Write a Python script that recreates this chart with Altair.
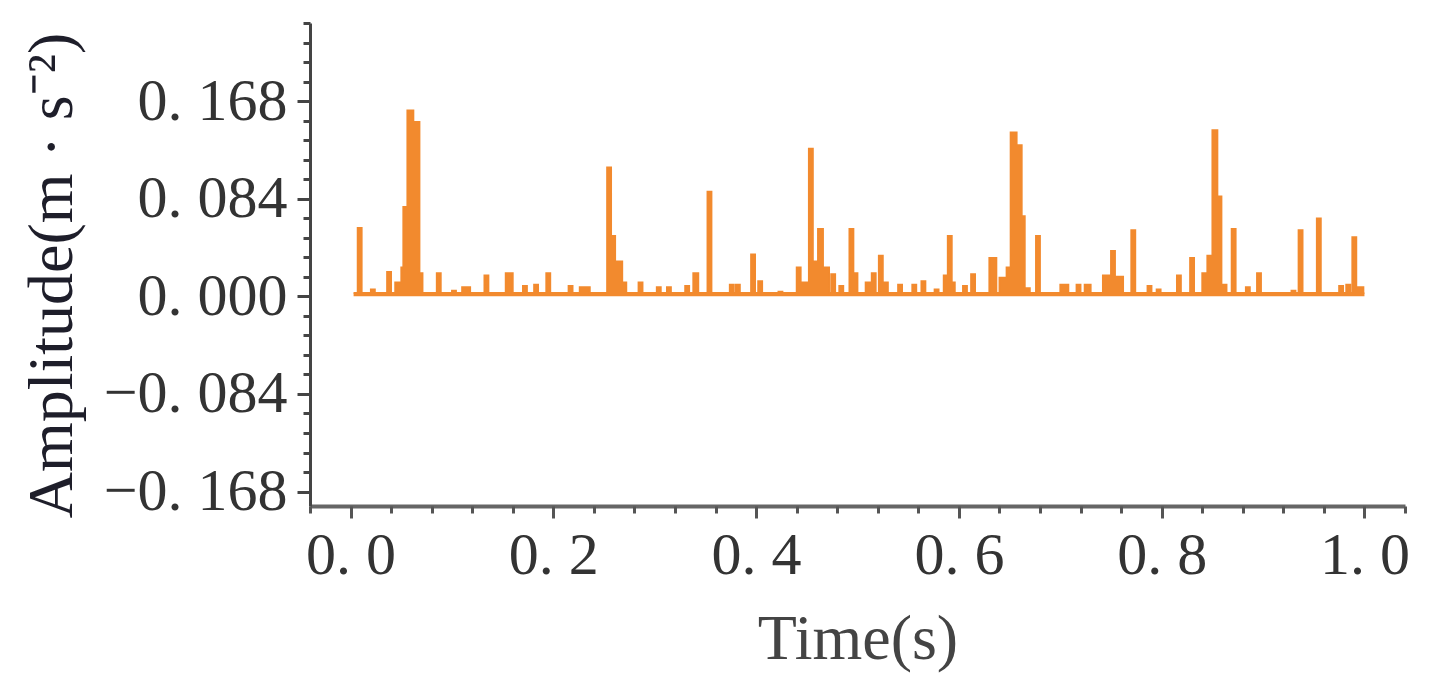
import altair as alt
import pandas as pd

# ---- data: spikes as (start time, end time, amplitude) held flat (step) ----
seg_start = [0.007, 0.020, 0.036, 0.044, 0.050, 0.052, 0.056, 0.062, 0.068, 0.085,
             0.100, 0.110, 0.132, 0.153, 0.170, 0.181, 0.193, 0.215, 0.226, 0.253,
             0.257, 0.261, 0.268, 0.284, 0.302, 0.312, 0.330, 0.338, 0.352, 0.374,
             0.380, 0.395, 0.402, 0.422, 0.440, 0.444, 0.452, 0.456, 0.461, 0.466,
             0.474, 0.482, 0.492, 0.496, 0.508, 0.514, 0.521, 0.525, 0.540, 0.554,
             0.563, 0.576, 0.585, 0.589, 0.593, 0.604, 0.612, 0.630, 0.640, 0.647,
             0.651, 0.657, 0.662, 0.665, 0.676, 0.700, 0.716, 0.724, 0.742, 0.750,
             0.754, 0.770, 0.786, 0.795, 0.815, 0.828, 0.840, 0.845, 0.850, 0.855,
             0.859, 0.869, 0.883, 0.894, 0.928, 0.935, 0.953, 0.975, 0.982, 0.988,
             0.992]
seg_end = [0.011, 0.024, 0.040, 0.050, 0.052, 0.056, 0.062, 0.068, 0.071, 0.089,
           0.104, 0.118, 0.136, 0.160, 0.174, 0.185, 0.197, 0.219, 0.236, 0.257,
           0.261, 0.268, 0.272, 0.288, 0.306, 0.316, 0.334, 0.343, 0.356, 0.378,
           0.384, 0.399, 0.406, 0.426, 0.444, 0.452, 0.456, 0.461, 0.466, 0.472,
           0.478, 0.486, 0.496, 0.500, 0.514, 0.518, 0.525, 0.530, 0.544, 0.558,
           0.567, 0.580, 0.589, 0.593, 0.596, 0.608, 0.616, 0.637, 0.647, 0.651,
           0.657, 0.662, 0.665, 0.670, 0.680, 0.708, 0.720, 0.730, 0.750, 0.754,
           0.762, 0.774, 0.790, 0.799, 0.819, 0.832, 0.845, 0.850, 0.855, 0.859,
           0.864, 0.873, 0.887, 0.898, 0.932, 0.939, 0.957, 0.979, 0.986, 0.992,
           0.999]
seg_amp = [0.059, 0.006, 0.021, 0.012, 0.025, 0.077, 0.160, 0.150, 0.020, 0.020,
           0.005, 0.008, 0.018, 0.020, 0.009, 0.010, 0.020, 0.009, 0.008, 0.111,
           0.052, 0.030, 0.012, 0.012, 0.008, 0.008, 0.009, 0.020, 0.090, 0.010,
           0.010, 0.036, 0.013, 0.004, 0.025, 0.012, 0.127, 0.030, 0.058, 0.025,
           0.019, 0.009, 0.058, 0.020, 0.012, 0.020, 0.035, 0.012, 0.010, 0.010,
           0.013, 0.006, 0.018, 0.052, 0.012, 0.009, 0.019, 0.033, 0.016, 0.025,
           0.141, 0.130, 0.069, 0.007, 0.052, 0.010, 0.010, 0.010, 0.018, 0.039,
           0.017, 0.057, 0.009, 0.006, 0.018, 0.033, 0.020, 0.035, 0.143, 0.086,
           0.010, 0.058, 0.008, 0.020, 0.005, 0.057, 0.067, 0.009, 0.010, 0.051,
           0.008]
t_first, t_last = 0.003, 1.000
base_level = 0.003

y_major = [-0.168, -0.084, 0.0, 0.084, 0.168]
x_major = [0.0, 0.2, 0.4, 0.6, 0.8, 1.0]

# ---- build step table ----
rows = [(t_first, base_level)]
for i, (s, e, a) in enumerate(zip(seg_start, seg_end, seg_amp)):
    rows.append((s, a))
    nxt = seg_start[i + 1] if i + 1 < len(seg_start) else None
    if nxt is None or abs(nxt - e) > 1e-9:
        rows.append((e, base_level))
rows.append((t_last, base_level))
df = pd.DataFrame(rows, columns=["t", "a"])

ORANGE = "#F28A2E"
FONT = "Liberation Serif"

x_minor = [round(-0.04 + 0.04 * k, 2) for k in range(28)]
y_minor = [round(-0.168 + 0.0168 * k, 4) for k in range(25)]

x_axis = alt.Axis(
    values=x_major, orient="bottom",
    title="Time(s)",
    labelExpr="replace(format(datum.value, '.1f'), '.', '. ')",
    tickSize=12, tickWidth=3, tickColor="#555",
    domainColor="#666", domainWidth=4,
    labelFont=FONT, labelFontSize=60, labelColor="#333", labelPadding=8,
    labelOverlap=False, labelFlush=False, labelBound=False, labelLimit=400,
    titleFont=FONT, titleFontSize=64, titleFontWeight="normal", titleColor="#444",
    titlePadding=21, minExtent=80, maxExtent=80, grid=False,
)
y_axis = alt.Axis(
    values=y_major, orient="left",
    title="Amplitude(m · s⁻²)",
    labelExpr="replace(format(datum.value, '.3f'), '.', '. ')",
    tickSize=13, tickWidth=3, tickColor="#444",
    domainColor="#444", domainWidth=3,
    labelFont=FONT, labelFontSize=60, labelColor="#333", labelPadding=10,
    labelOverlap=False, labelFlush=False, labelBound=False, labelLimit=400,
    titleFont=FONT, titleFontSize=64, titleFontWeight="normal", titleColor="#1e1e2a",
    titlePadding=26, minExtent=200, maxExtent=200, titleY=252, titleLimit=800,
    grid=False,
)
x_minor_axis = alt.Axis(
    values=x_minor, orient="bottom", title=None, labels=False, domain=False,
    tickSize=7, tickWidth=3, tickColor="#555", grid=False,
)
y_minor_axis = alt.Axis(
    values=y_minor, orient="left", title=None, labels=False, domain=False,
    tickSize=7, tickWidth=3, tickColor="#444", grid=False,
)

xs = alt.Scale(domain=[-0.04, 1.04], nice=False, zero=False)
ys = alt.Scale(domain=[-0.1804, 0.2352], nice=False, zero=False)

base = alt.Chart(df)
area = base.mark_area(interpolate="step-after", color=ORANGE, opacity=1).encode(
    x=alt.X("t:Q", scale=xs, axis=x_axis),
    y=alt.Y("a:Q", scale=ys, axis=y_axis),
    y2=alt.datum(0),
)
line = base.mark_line(interpolate="step-after", color=ORANGE, strokeWidth=1.8).encode(
    x=alt.X("t:Q", scale=xs, axis=x_minor_axis),
    y=alt.Y("a:Q", scale=ys, axis=y_minor_axis),
)

chart = alt.layer(area, line).resolve_axis(x="independent", y="independent").properties(
    width=1095, height=483,
    background="white",
    autosize=alt.AutoSizeParams(type="none"),
    padding={"left": 302, "top": 15, "right": 16, "bottom": 170},
).configure_view(stroke=None)

chart.save("out.html", embed_options={"renderer": "svg", "actions": False})
